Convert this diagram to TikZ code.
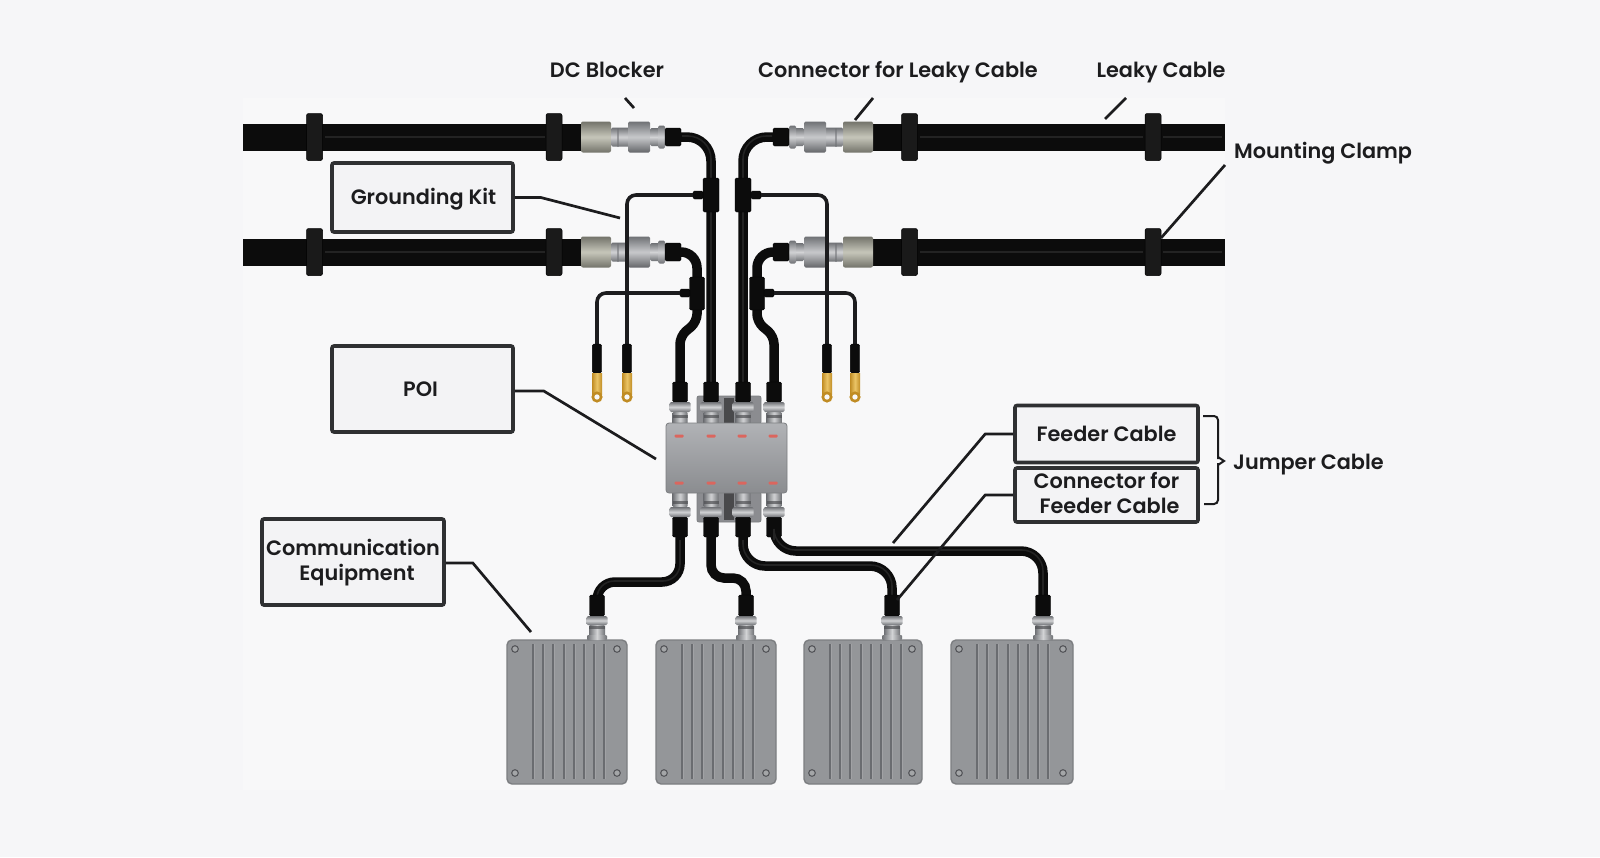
\documentclass[tikz,border=0pt]{standalone}
\usepackage{fontspec}
\setmainfont{Poppins SemiBold}
\definecolor{paper}{HTML}{F6F6F8}
\definecolor{panel}{HTML}{F8F8F9}
\definecolor{ink}{HTML}{1C1C1E}
\definecolor{boxline}{HTML}{2F3032}
\definecolor{boxfill}{HTML}{F3F3F5}
\definecolor{jet}{HTML}{0C0C0C}
\definecolor{sheen}{HTML}{232323}
\definecolor{clampgrey}{HTML}{1A1A1A}
\definecolor{steelD}{HTML}{6F7175}
\definecolor{steelM}{HTML}{A3A5A9}
\definecolor{steelL}{HTML}{D2D3D5}
\definecolor{oliveD}{HTML}{73736A}
\definecolor{oliveL}{HTML}{C6C6BA}
\definecolor{brass}{HTML}{C08C24}
\definecolor{brassL}{HTML}{EBC567}
\definecolor{housing}{HTML}{949699}
\definecolor{housingD}{HTML}{7C7E81}
\definecolor{rib}{HTML}{6A6C70}
\definecolor{ledred}{HTML}{DB665E}
\tikzset{
  x=1pt, y=-1pt,
  labeltext/.style={font=\fontsize{20.8}{25}\selectfont, text=ink, inner sep=0pt, align=center},
  labelbox/.style={labeltext, draw=boxline, line width=3.6pt, fill=boxfill, rounded corners=2pt},
  leader/.style={draw=ink, line width=2.7pt},
  cablecore/.style={draw=jet, line width=9.5pt},
  cableglint/.style={draw=sheen, line width=1.6pt},
  gwire/.style={draw=ink, line width=3.6pt, rounded corners=9pt},
  blackpart/.style={fill=jet, draw=black, line width=.4pt, rounded corners=1.5pt},
  steelH/.style={top color=steelD, bottom color=steelD, middle color=steelL, rounded corners=1.5pt},
  steelV/.style={left color=steelD, right color=steelD, middle color=steelL, rounded corners=1pt},
  oliveH/.style={top color=oliveD, bottom color=oliveD, middle color=oliveL, rounded corners=2pt},
  % horizontal feeder connector: gold shell, neck, nut, flange, boot
  leakyconn/.pic={
    \shade[oliveH] (0,-15.5) rectangle (30,15.5);
    \shade[steelH] (30,-9.5) rectangle (49,9.5);
    \fill[steelD, opacity=.55] (36,-9.5) rectangle (38,9.5);
    \shade[top color=steelD, bottom color=steelD!90!black, middle color=steelM!60!white, rounded corners=1.5pt] (47,-15.5) rectangle (69,15.5);
    \shade[steelH] (69,-9) rectangle (80,9);
    \shade[steelH] (77,-11.5) rectangle (84,11.5);
    \path[blackpart] (84,-9) rectangle (100,9);
  },
  % vertical BNC style jack, origin at the free end of the boot
  vjack/.pic={
    \path[blackpart] (-7.5,0) rectangle (7.5,20);
    \shade[steelV] (-7.5,30) rectangle (7.5,45);
    \fill[steelD!70!black, opacity=.7] (-7.5,33) rectangle (7.5,36);
    \shade[steelH] (-10.5,20) rectangle (10.5,30);
  },
  % the same jack where it enters a radio unit, with a seating collar
  unitjack/.pic={
    \path[blackpart] (-7.5,0) rectangle (7.5,21);
    \shade[steelV] (-8,30) rectangle (8,45);
    \fill[steelD!70!black, opacity=.7] (-8,31) rectangle (8,34);
    \shade[steelV] (-10,40) rectangle (10,45);
    \shade[steelH] (-10.5,21) rectangle (10.5,30);
  },
  % ring terminal on a grounding wire
  lug/.pic={
    \path[blackpart] (-4.7,0) rectangle (4.7,29);
    \shade[left color=brass, right color=brass, middle color=brassL] (-5,29) rectangle (5,50);
    \draw[brass, line width=2.6pt, fill=panel] (0,53) circle (4.2);
  },
  clampblock/.pic={
    \path[fill=clampgrey, draw=black, line width=.5pt, rounded corners=2pt] (-8,-23.5) rectangle (8,23.5);
  },
}
% Housing of one radio unit: origin at its top-left corner, #3 is the width
\newcommand{\radiounit}[3]{%
  \begin{scope}[shift={(#1,#2)}]
    \path[fill=housing, draw=housingD, line width=1.4pt, rounded corners=5pt] (0,0) rectangle (#3,144);
    \foreach \rx in {26,36,46,57,67,77,87,97} {
      \draw[rib, line width=1.4pt] (\rx,4) -- (\rx,139);
      \draw[white, opacity=.12, line width=1pt] (\rx+1.2,4) -- (\rx+1.2,139);
    }
    \foreach \sx in {8,#3-10} \foreach \sy in {9,133}
      \draw[rib!80!black, line width=1.1pt, fill=housing!85!white] (\sx,\sy) circle (3.3);
  \end{scope}}
% Text set inside a label box: baseline of the (first) line #1 below the box centre
\newcommand{\boxline}[2]{\raisebox{-#1pt}[0pt][0pt]{#2}}
\newcommand{\boxlines}[3]{\raisebox{#1pt}[0pt][0pt]{\begin{tabular}[t]{@{}c@{}}#2\\#3\end{tabular}}}
\begin{document}
\begin{tikzpicture}
\useasboundingbox[fill=paper] (0,0) rectangle (1600,857);
\fill[panel] (243,98) rectangle (1225,790);

% leaky cables, the heavy outer jacket first
\foreach \ly in {137,252} {
  \fill[jet] (243,\ly-13.5) rectangle (590,\ly+13.5);
  \draw[cableglint] (325,\ly) -- (545,\ly);
  \fill[jet] (864,\ly-13.5) rectangle (1225,\ly+13.5);
  \draw[cableglint] (920,\ly) -- (1143,\ly);
  \draw[cableglint] (1163,\ly) -- (1222,\ly);
  \foreach \cx in {314.5,554,909.5,1153}
    \pic at (\cx,\ly) {clampblock};
  \pic at (581,\ly) {leakyconn};
  \pic[xscale=-1] at (873,\ly) {leakyconn};
}

% feeder runs between the leaky cable connectors and the POI
\draw[cablecore, rounded corners=24pt] (676,137) -- (711,137) -- (711,390);
\draw[cablecore, rounded corners=24pt] (778,137) -- (743,137) -- (743,390);
\draw[cableglint, rounded corners=23pt] (682,136) -- (711,136) -- (711,388);
\draw[cableglint, rounded corners=23pt] (772,136) -- (743,136) -- (743,388);
\draw[cablecore, rounded corners=16pt] (676,252) -- (697,252) -- (697,300);
\draw[cablecore, rounded corners=16pt] (778,252) -- (757,252) -- (757,300);
\draw[cablecore, rounded corners=8pt] (697,295) -- (697,322) -- (680,336) -- (680,390);
\draw[cablecore, rounded corners=8pt] (757,295) -- (757,322) -- (774,336) -- (774,390);

% grounding clamps on the feeders
\foreach \gx/\gy/\ga/\gb in {711/178/693/703, 743/178/751/761} {
  \path[blackpart] (\gx-8,\gy) rectangle (\gx+8,\gy+34);
  \path[blackpart] (\ga,\gy+13) rectangle (\gb,\gy+21);
}
\foreach \gx/\gy/\ga/\gb in {697/277/680/690, 757/277/764/774} {
  \path[blackpart] (\gx-7.5,\gy) rectangle (\gx+7.5,\gy+33);
  \path[blackpart] (\ga,\gy+12) rectangle (\gb,\gy+20);
}

% grounding wires, laid over the lower connectors
\draw[gwire] (693,195) -- (627,195) -- (627,346);
\draw[gwire] (761,195) -- (827,195) -- (827,346);
\draw[gwire] (680,293) -- (597,293) -- (597,346);
\draw[gwire] (774,293) -- (855,293) -- (855,346);
\foreach \lx in {597,627,827,855}
  \pic at (\lx,344) {lug};

% POI with its connector blocks
\path[fill=steelM!85!black, draw=housingD, line width=.8pt, rounded corners=2pt] (697,396) rectangle (761,424);
\path[fill=steelM!85!black, draw=housingD, line width=.8pt, rounded corners=2pt] (697,492) rectangle (761,522);
\fill[ink!80!white] (724,398) rectangle (734,424);
\fill[ink!80!white] (724,493) rectangle (734,520);
\foreach \jx in {680,711,743,774}
  \pic at (\jx,382) {vjack};
\foreach \jx in {680,711,743,774}
  \pic[yscale=-1] at (\jx,537) {vjack};
\node[top color=steelM!85!white, bottom color=steelM!85!black, draw=housingD, line width=.8pt, rounded corners=3pt,
      minimum width=121pt, minimum height=70pt, inner sep=0pt] (poi) at (726.5,458) {};
\foreach \lx in {679,711,742,773} {
  \fill[ledred, rounded corners=1pt] (\lx-4.5,434.5) rectangle (\lx+4.5,437.5);
  \fill[ledred, rounded corners=1pt] (\lx-4.5,481.5) rectangle (\lx+4.5,484.5);
}

% jumpers from the POI down to the radio units
\draw[cablecore, rounded corners=18pt] (680,530) -- (680,582) -- (597,582) -- (597,600);
\draw[cablecore, rounded corners=13pt] (711,530) -- (711,578) -- (746,578) -- (746,600);
\draw[cablecore, rounded corners=22pt] (743,530) -- (743,566) -- (892,566) -- (892,600);
\draw[cablecore, rounded corners=22pt] (774,530) -- (774,551) -- (1043,551) -- (1043,600);
\draw[cableglint, rounded corners=17pt] (680,540) -- (680,581) -- (597,581) -- (597,598);
\draw[cableglint, rounded corners=21pt] (743,540) -- (743,565) -- (892,565) -- (892,598);
\draw[cableglint, rounded corners=21pt] (774,540) -- (774,550) -- (1043,550) -- (1043,598);

% radio units
\radiounit{507}{640}{120}
\radiounit{656}{640}{120}
\radiounit{804}{640}{118}
\radiounit{951}{640}{122}
\foreach \jx in {597,746,892,1043}
  \pic at (\jx,595) {unitjack};

% labels
\node[labeltext, anchor=base] (dcblock) at (607,77) {DC Blocker};
\node[labeltext, anchor=base] (leakyconnlbl) at (898,77) {Connector for Leaky Cable};
\node[labeltext, anchor=base] (leakylbl) at (1161,77) {Leaky Cable};
\node[labeltext, anchor=base west] (clamplbl) at (1234,158) {Mounting Clamp};
\node[labeltext, anchor=base west] (jumperlbl) at (1233,469) {Jumper Cable};
\node[labelbox, minimum width=181pt, minimum height=69pt] (gkit) at (422.5,197.5) {\boxline{6.5}{\hspace*{2pt}Grounding Kit}};
\node[labelbox, minimum width=181pt, minimum height=86pt] (poilbl) at (422.5,389) {\boxline{7.5}{POI\hspace*{4pt}}};
\node[labelbox, minimum width=182pt, minimum height=86pt] (commlbl) at (353,562) {\boxlines{6.5}{Communication}{\hspace*{8pt}Equipment}};
\node[labelbox, minimum width=183pt, minimum height=57pt] (feederlbl) at (1106.5,434) {\boxline{7.7}{Feeder Cable}};
\node[labelbox, minimum width=183pt, minimum height=54pt] (fconnlbl) at (1106.5,495) {\boxlines{7}{Connector for}{\hspace*{6pt}Feeder Cable}};

% leader lines
\coordinate (dcA) at (625,98);   \coordinate (dcB) at (634,108);
\coordinate (lcA) at (873,98);   \coordinate (lcB) at (855,120);
\coordinate (lkA) at (1126,98);  \coordinate (lkB) at (1105,119);
\coordinate (mcA) at (1225,165); \coordinate (mcB) at (1161,238);
\coordinate (gkE) at (620,218);
\coordinate (poiE) at (656,459);
\coordinate (comE) at (531,632);
\coordinate (feE) at (893,543);
\coordinate (fcE) at (897,600);
\draw[leader] (dcA) -- (dcB);
\draw[leader] (lcA) -- (lcB);
\draw[leader] (lkA) -- (lkB);
\draw[leader] (mcA) -- (mcB);
\draw[leader] (gkit.east) -- ++(26,0) -- (gkE);
\draw[leader] (poilbl.east) ++(0,2) -- ++(29,0) -- (poiE);
\draw[leader] (commlbl.east) ++(0,1) -- ++(27,0) -- (comE);
\draw[leader] (feederlbl.west) -- ++(-28,0) -- (feE);
\draw[leader] (fconnlbl.west) -- ++(-28,0) -- (fcE);

% brace gathering the two jumper parts
\draw[ink, line width=2pt, rounded corners=4pt] (1203,416) -- (1218,416) -- (1218,459);
\draw[ink, line width=2pt] (1218,457) -- (1224,461) -- (1218,465);
\draw[ink, line width=2pt, rounded corners=4pt] (1218,463) -- (1218,504) -- (1204,504);
\end{tikzpicture}
\end{document}
